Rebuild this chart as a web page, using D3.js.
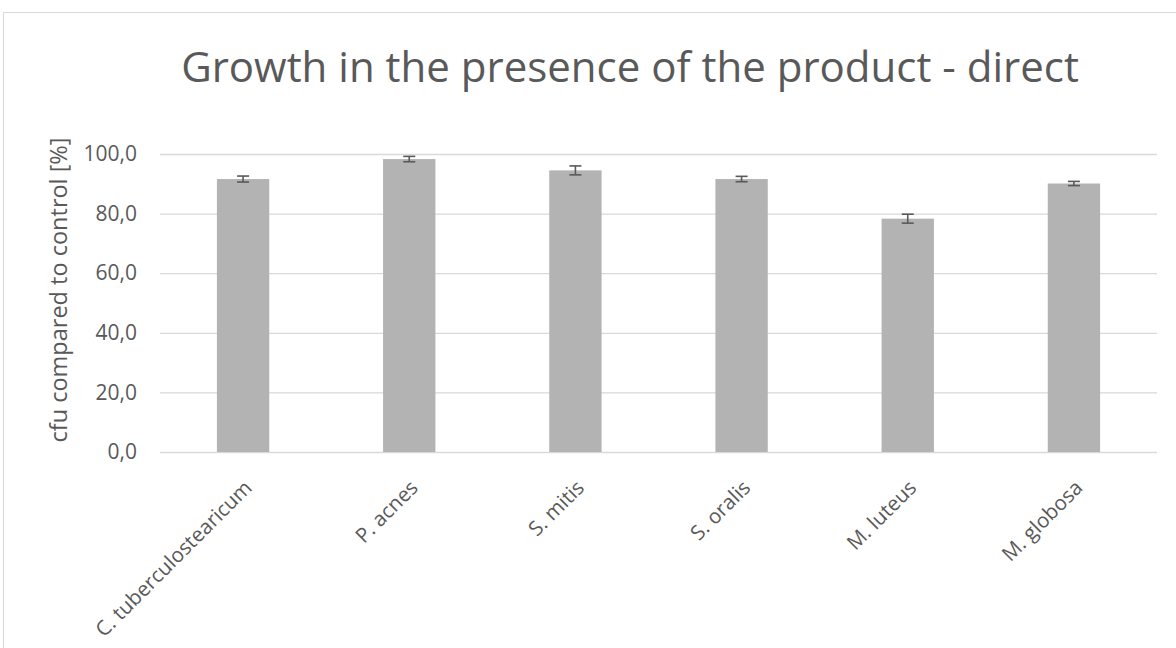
<!DOCTYPE html>
<html>
<head>
<meta charset="utf-8">
<script src="https://cdn.jsdelivr.net/npm/d3@7"></script>
<style>
  body { margin: 0; background: #fff; }
  text { font-family: "Open Sans", sans-serif; fill: #595959; }
</style>
</head>
<body>
<div id="vis"></div>
<script>
let species = ["C. tuberculostearicum", "P. acnes", "S. mitis", "S. oralis", "M. luteus", "M. globosa"];
let growth = [91.6, 98.3, 94.5, 91.6, 78.3, 90.1];
let errors = [1.0, 0.9, 1.5, 0.9, 1.5, 0.7];
let yTicks = [0, 20, 40, 60, 80, 100];

let width = 1176;
let height = 648;
let margin = {top: 154, bottom: 196, left: 160, right: 19};

let svg = d3.select("#vis")
  .append("svg")
  .attr("width", width)
  .attr("height", height);

// chart border
svg.append("rect")
  .attr("x", 3.5)
  .attr("y", 12.5)
  .attr("width", width + 10)
  .attr("height", height + 10)
  .attr("fill", "none")
  .attr("stroke", "#d9d9d9");

let xScale = d3.scaleBand()
  .domain(species)
  .range([margin.left, width - margin.right])
  .paddingInner(0.685)
  .paddingOuter(0.3425);

let yScale = d3.scaleLinear()
  .domain([0, 100])
  .range([height - margin.bottom, margin.top]);

// gridlines + y labels
let yAxis = d3.axisLeft(yScale)
  .tickValues(yTicks)
  .tickSize(-(width - margin.left - margin.right))
  .tickPadding(23)
  .tickFormat(d => d3.format(".1f")(d).replace(".", ","));

svg.append("g")
  .attr("transform", "translate(" + margin.left + ",0)")
  .call(yAxis)
  .call(g => g.select(".domain").remove())
  .call(g => g.selectAll("line").attr("stroke", "#d9d9d9").attr("stroke-width", 1.3))
  .call(g => g.selectAll("text")
    .attr("font-size", 21)
    .attr("fill", "#595959")
    .attr("font-family", "Open Sans, sans-serif"));

// bars
svg.append("g")
  .selectAll("rect")
  .data(species)
  .join("rect")
  .attr("x", d => xScale(d))
  .attr("y", (d, i) => yScale(growth[i]))
  .attr("width", xScale.bandwidth())
  .attr("height", (d, i) => yScale(0) - yScale(growth[i]))
  .attr("fill", "#b3b3b3");

// error bars
let capW = 6;
let errG = svg.append("g")
  .attr("stroke", "#595959")
  .attr("stroke-width", 1.6);

species.forEach((s, i) => {
  let cx = xScale(s) + xScale.bandwidth() / 2;
  let yLo = yScale(growth[i] - errors[i]);
  let yHi = yScale(growth[i] + errors[i]);
  errG.append("line").attr("x1", cx).attr("x2", cx).attr("y1", yLo).attr("y2", yHi);
  errG.append("line").attr("x1", cx - capW).attr("x2", cx + capW).attr("y1", yLo).attr("y2", yLo);
  errG.append("line").attr("x1", cx - capW).attr("x2", cx + capW).attr("y1", yHi).attr("y2", yHi);
});

// x labels, rotated
svg.append("g")
  .selectAll("text")
  .data(species)
  .join("text")
  .attr("transform", d => "translate(" + (xScale(d) + xScale.bandwidth() / 2 + 10) + "," + (yScale(0) + 37) + ") rotate(-45)")
  .attr("text-anchor", "end")
  .attr("font-size", 20.5)
  .text(d => d);

// title
svg.append("text")
  .attr("x", 630)
  .attr("y", 82)
  .attr("text-anchor", "middle")
  .attr("font-size", 42)
  .text("Growth in the presence of the product - direct");

// y axis label
svg.append("text")
  .attr("transform", "translate(67,290) rotate(-90)")
  .attr("text-anchor", "middle")
  .attr("font-size", 23.5)
  .text("cfu compared to control [%]");
</script>
</body>
</html>
